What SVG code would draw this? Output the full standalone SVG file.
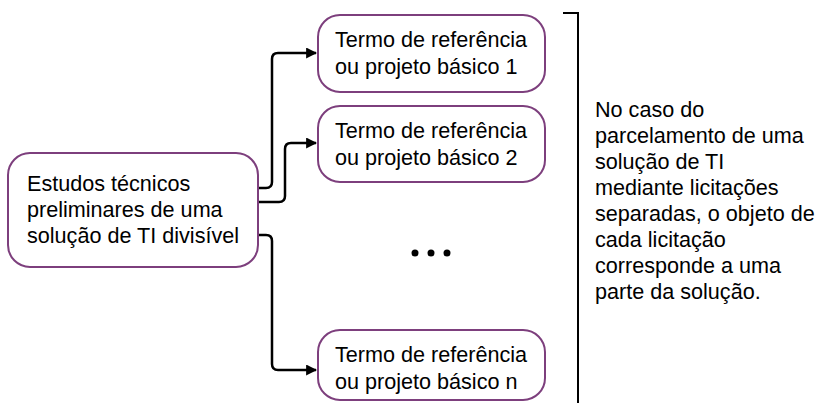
<svg xmlns="http://www.w3.org/2000/svg" width="821" height="403" viewBox="0 0 821 403">
<style>
.box{fill:#fff;stroke:#7d3f7d;stroke-width:2}
.t{font-family:"Liberation Sans",Arial,sans-serif;font-size:21.6px;fill:#000}
.c{fill:none;stroke:#000;stroke-width:2.5}
</style>
<defs>
<marker id="ah" viewBox="0 0 10 10" refX="9" refY="5" markerWidth="4.4" markerHeight="4.4" orient="auto" markerUnits="strokeWidth">
<path d="M0,0 L10,5 L0,10 z" fill="#000"/>
</marker>
</defs>
<rect width="821" height="403" fill="#fff"/>
<g id="connectors">
<path class="c" d="M258,188 H266 Q272,188 272,182 V59 Q272,53 278,53 H316" marker-end="url(#ah)"/>
<path class="c" d="M258,202 H279 Q285,202 285,196 V149 Q285,143 291,143 H316" marker-end="url(#ah)"/>
<path class="c" d="M258,235 H266 Q272,235 272,241 V364 Q272,370 278,370 H316" marker-end="url(#ah)"/>
</g>
<g id="main">
<rect class="box" x="8" y="153" width="250" height="114" rx="22"/>
<text class="t" x="27" y="191">Estudos técnicos</text>
<text class="t" x="27" y="217">preliminares de uma</text>
<text class="t" x="27" y="243">solução de TI divisível</text>
</g>
<g id="tr1">
<rect class="box" x="318" y="15" width="227" height="77" rx="22"/>
<text class="t" x="335" y="47">Termo de referência</text>
<text class="t" x="335" y="74">ou projeto básico 1</text>
</g>
<g id="tr2">
<rect class="box" x="318" y="106" width="227" height="76" rx="22"/>
<text class="t" x="335" y="138">Termo de referência</text>
<text class="t" x="335" y="165">ou projeto básico 2</text>
</g>
<g id="trn">
<rect class="box" x="318" y="330" width="227" height="70" rx="22"/>
<text class="t" x="335" y="362">Termo de referência</text>
<text class="t" x="335" y="389">ou projeto básico n</text>
</g>
<g id="dots" fill="#000">
<circle cx="415" cy="253" r="3.5"/>
<circle cx="431" cy="253" r="3.5"/>
<circle cx="447" cy="253" r="3.5"/>
</g>
<g id="bracket">
<path d="M563,13 H578 V403" fill="none" stroke="#000" stroke-width="2"/>
<text class="t" x="595" y="117">No caso do</text>
<text class="t" x="595" y="143">parcelamento de uma</text>
<text class="t" x="595" y="169">solução de TI</text>
<text class="t" x="595" y="195">mediante licitações</text>
<text class="t" x="595" y="221">separadas, o objeto de</text>
<text class="t" x="595" y="247">cada licitação</text>
<text class="t" x="595" y="273">corresponde a uma</text>
<text class="t" x="595" y="299">parte da solução.</text>
</g>
</svg>
